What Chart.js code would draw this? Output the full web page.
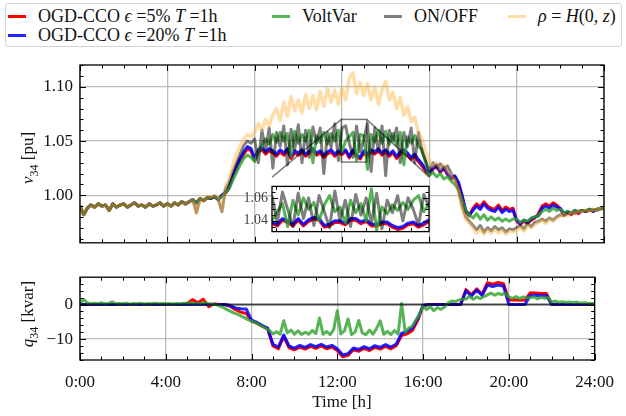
<!DOCTYPE html>
<html>
<head>
<meta charset="utf-8">
<script src="https://cdn.jsdelivr.net/npm/chart.js@4.4.0/dist/chart.umd.min.js"></script>
<style>
  body { margin: 0; background: #fff; width: 626px; height: 416px; overflow: hidden; position: relative;
         font-family: "Liberation Serif", serif; color: #111; }
  canvas { position: absolute; }
  #legend { position: absolute; left: 5px; top: 3px; width: 617px; height: 44px; box-sizing: border-box;
            border: 1px solid #d4d4d4; border-radius: 3px; background: #fff; }
  .item { position: absolute; font-size: 18px; line-height: 19px; white-space: nowrap; }
  .sw { display: inline-block; width: 18px; height: 3px; vertical-align: middle; margin-right: 12px; position: relative; top: -1px; }
  .lab { position: absolute; font-size: 17px; white-space: nowrap; transform: translate(-50%, -50%); }
  .rot { transform: translate(-50%, -50%) rotate(-90deg); }
  sub { font-size: 12px; }
</style>
</head>
<body>
<div id="legend">
  <div class="item" style="left:2px;top:3px"><span class="sw" style="background:#ff0000"></span>OGD-CCO <i>ϵ</i> =5% <i>T</i> =1h</div>
  <div class="item" style="left:2px;top:22px"><span class="sw" style="background:#2626ff"></span>OGD-CCO <i>ϵ</i> =20% <i>T</i> =1h</div>
  <div class="item" style="left:266px;top:3px"><span class="sw" style="background:#56b356"></span>VoltVar</div>
  <div class="item" style="left:378px;top:3px"><span class="sw" style="background:#808080"></span>ON/OFF</div>
  <div class="item" style="left:502px;top:3px"><span class="sw" style="background:#ffdda6"></span><i>ρ</i> = <i>H</i>(0, <i>z</i>)</div>
</div>
<canvas id="topChart" width="626" height="260" style="left:0;top:0"></canvas>
<canvas id="botChart" width="626" height="156" style="left:0;top:260px"></canvas>
<canvas id="insChart" width="10" height="10"></canvas>
<div class="lab rot" style="left:30px;top:158px"><i>v</i><sub>34</sub> [pu]</div>
<div class="lab rot" style="left:30px;top:314px"><i>q</i><sub>34</sub> [kvar]</div>
<div class="lab" style="left:342px;top:402px">Time [h]</div>

<script>
// sampling grids: every 10 minutes and every 15 minutes, 0:00 .. 24:00
const hours10 = Array.from({ length: 145 }, (_, i) => i / 6);
const hours15 = Array.from({ length: 97 }, (_, i) => i / 4);

// voltage at bus 34 [pu], one row per hour (10-min samples)
const vOgd5 = [
  0.990, 0.982, 0.988, 0.991, 0.989, 0.992,
  0.990, 0.991, 0.986, 0.992, 0.989, 0.991,
  0.992, 0.989, 0.991, 0.993, 0.990, 0.991,
  0.989, 0.992, 0.990, 0.991, 0.993, 0.990,
  0.992, 0.990, 0.993, 0.991, 0.994, 0.992,
  0.994, 0.996, 0.993, 0.997, 0.995, 0.998,
  0.997, 0.999, 0.996, 1.000, 1.002, 1.007,
  1.017, 1.025, 1.032, 1.038, 1.043, 1.041,
  1.032, 1.040, 1.042, 1.038, 1.041, 1.039,
  1.036, 1.040, 1.037, 1.041, 1.034, 1.039,
  1.037, 1.040, 1.036, 1.039, 1.041, 1.037,
  1.039, 1.035, 1.038, 1.040, 1.036, 1.039,
  1.0375, 1.0405, 1.0345, 1.0405, 1.0355, 1.0335,
  1.039, 1.036, 1.040, 1.038, 1.041, 1.037,
  1.040, 1.036, 1.039, 1.034, 1.038, 1.040,
  1.037, 1.033, 1.036, 1.031, 1.027, 1.022,
  1.019, 1.024, 1.027, 1.021, 1.025, 1.019,
  1.015, 1.017, 1.011, 0.999, 0.985, 0.981,
  0.988, 0.992, 0.989, 0.994, 0.990, 0.988,
  0.987, 0.991, 0.986, 0.989, 0.987, 0.988,
  0.976, 0.973, 0.976, 0.974, 0.977, 0.979,
  0.983, 0.990, 0.992, 0.990, 0.993, 0.991,
  0.987, 0.982, 0.984, 0.982, 0.985, 0.983,
  0.986, 0.985, 0.987, 0.985, 0.987, 0.988,
  0.988
];
const vOgd20 = [
  0.990, 0.982, 0.988, 0.991, 0.989, 0.992,
  0.990, 0.991, 0.986, 0.992, 0.989, 0.991,
  0.992, 0.989, 0.991, 0.993, 0.990, 0.991,
  0.989, 0.992, 0.990, 0.991, 0.993, 0.990,
  0.992, 0.990, 0.993, 0.991, 0.994, 0.992,
  0.994, 0.996, 0.993, 0.997, 0.995, 0.998,
  0.997, 0.999, 0.996, 1.000, 1.003, 1.008,
  1.018, 1.026, 1.034, 1.040, 1.045, 1.043,
  1.034, 1.042, 1.044, 1.040, 1.043, 1.041,
  1.038, 1.042, 1.039, 1.043, 1.036, 1.041,
  1.039, 1.042, 1.038, 1.041, 1.043, 1.039,
  1.041, 1.037, 1.040, 1.042, 1.038, 1.041,
  1.039, 1.042, 1.036, 1.042, 1.037, 1.035,
  1.041, 1.038, 1.042, 1.040, 1.043, 1.039,
  1.042, 1.038, 1.041, 1.036, 1.040, 1.042,
  1.039, 1.035, 1.038, 1.033, 1.029, 1.024,
  1.020, 1.025, 1.028, 1.022, 1.026, 1.020,
  1.016, 1.018, 1.012, 1.000, 0.986, 0.982,
  0.986, 0.990, 0.987, 0.992, 0.988, 0.986,
  0.985, 0.989, 0.984, 0.987, 0.985, 0.986,
  0.977, 0.974, 0.977, 0.975, 0.978, 0.980,
  0.981, 0.988, 0.990, 0.988, 0.991, 0.989,
  0.988, 0.983, 0.985, 0.983, 0.986, 0.984,
  0.986, 0.985, 0.987, 0.985, 0.987, 0.988,
  0.988
];
const vVoltVar = [
  0.990, 0.982, 0.988, 0.991, 0.989, 0.992,
  0.990, 0.991, 0.986, 0.992, 0.989, 0.991,
  0.992, 0.989, 0.991, 0.993, 0.990, 0.991,
  0.989, 0.992, 0.990, 0.991, 0.993, 0.990,
  0.992, 0.990, 0.993, 0.991, 0.994, 0.992,
  0.994, 0.996, 0.993, 0.997, 0.995, 0.998,
  0.997, 0.999, 0.996, 0.999, 1.002, 1.006,
  1.014, 1.021, 1.028, 1.034, 1.037, 1.035,
  1.031, 1.040, 1.046, 1.052, 1.047, 1.056,
  1.049, 1.058, 1.050, 1.057, 1.036, 1.059,
  1.048, 1.056, 1.050, 1.060, 1.030, 1.055,
  1.049, 1.058, 1.047, 1.057, 1.050, 1.060,
  1.040, 1.050, 1.054, 1.058, 1.032, 1.056,
  1.055, 1.024, 1.056, 1.049, 1.060, 1.048,
  1.059, 1.047, 1.057, 1.046, 1.058, 1.028,
  1.054, 1.048, 1.055, 1.045, 1.042, 1.030,
  1.018, 1.021, 1.017, 1.020, 1.015, 1.017,
  1.013, 1.010, 1.005, 0.995, 0.986, 0.982,
  0.979, 0.983, 0.978, 0.982, 0.977, 0.980,
  0.977, 0.979, 0.976, 0.978, 0.976, 0.978,
  0.978, 0.975, 0.977, 0.976, 0.979, 0.980,
  0.981, 0.985, 0.987, 0.985, 0.988, 0.986,
  0.987, 0.984, 0.985, 0.984, 0.986, 0.985,
  0.986, 0.986, 0.987, 0.986, 0.987, 0.988,
  0.988
];
const vOnOff = [
  0.990, 0.982, 0.988, 0.991, 0.989, 0.992,
  0.990, 0.991, 0.986, 0.992, 0.989, 0.991,
  0.992, 0.989, 0.991, 0.993, 0.990, 0.991,
  0.989, 0.992, 0.990, 0.991, 0.993, 0.990,
  0.992, 0.990, 0.993, 0.991, 0.994, 0.992,
  0.994, 0.996, 0.984, 0.997, 0.995, 0.998,
  0.997, 0.999, 0.996, 0.985, 1.006, 1.012,
  1.022, 1.030, 1.038, 1.046, 1.050, 1.048,
  1.052, 1.030, 1.060, 1.040, 1.062, 1.025,
  1.058, 1.045, 1.064, 1.028, 1.061, 1.042,
  1.065, 1.030, 1.060, 1.035, 1.063, 1.048,
  1.062, 1.020, 1.058, 1.044, 1.066, 1.032,
  1.062, 1.064, 1.048, 1.035, 1.064, 1.040,
  1.052, 1.066, 1.022, 1.062, 1.040, 1.064,
  1.018, 1.060, 1.050, 1.062, 1.030, 1.058,
  1.045, 1.062, 1.030, 1.058, 1.040, 1.032,
  1.022, 1.030, 1.025, 1.029, 1.024, 1.027,
  1.020, 1.015, 1.005, 0.990, 0.980, 0.976,
  0.972, 0.968, 0.972, 0.966, 0.970, 0.967,
  0.971, 0.968, 0.970, 0.966, 0.969, 0.968,
  0.970, 0.972, 0.969, 0.974, 0.971, 0.975,
  0.976, 0.978, 0.976, 0.979, 0.977, 0.980,
  0.982, 0.981, 0.983, 0.984, 0.983, 0.985,
  0.986, 0.985, 0.986, 0.987, 0.986, 0.987,
  0.988
];
const vRho = [
  0.990, 0.982, 0.988, 0.991, 0.989, 0.992,
  0.990, 0.991, 0.986, 0.992, 0.989, 0.991,
  0.992, 0.989, 0.991, 0.993, 0.990, 0.991,
  0.989, 0.992, 0.990, 0.991, 0.993, 0.990,
  0.992, 0.990, 0.993, 0.991, 0.994, 0.992,
  0.994, 0.996, 0.983, 0.997, 0.995, 0.999,
  0.998, 1.000, 0.997, 0.986, 1.008, 1.016,
  1.028, 1.038, 1.046, 1.052, 1.056, 1.054,
  1.058, 1.066, 1.060, 1.070, 1.064, 1.074,
  1.080, 1.069, 1.086, 1.073, 1.091, 1.078,
  1.088, 1.076, 1.093, 1.080, 1.092, 1.079,
  1.096, 1.082, 1.099, 1.086, 1.097, 1.084,
  1.099, 1.088, 1.108, 1.113, 1.094, 1.104,
  1.092, 1.103, 1.088, 1.100, 1.084, 1.097,
  1.105, 1.088, 1.095, 1.080, 1.090, 1.074,
  1.082, 1.068, 1.072, 1.058, 1.052, 1.040,
  1.032, 1.027, 1.030, 1.024, 1.028, 1.022,
  1.018, 1.014, 1.004, 0.988, 0.978, 0.975,
  0.970, 0.965, 0.969, 0.964, 0.968, 0.965,
  0.969, 0.965, 0.968, 0.964, 0.967, 0.966,
  0.968, 0.970, 0.967, 0.972, 0.970, 0.973,
  0.975, 0.977, 0.974, 0.978, 0.976, 0.979,
  0.981, 0.982, 0.981, 0.984, 0.983, 0.985,
  0.985, 0.986, 0.985, 0.987, 0.986, 0.988,
  0.988
];

// reactive power at bus 34 [kvar]; the OGD-CCO ones are on the 15-min grid
const qOgd5 = [
  0, 0, 0, 0, 0, 0, 0, 0,
  0, 0, 0, 0, 0, 0, 0, 0,
  0, 0, 0, 0, 0.3, 1.4, 0.5, 1.5,
  -0.6, 0.2, 0, 0, -0.5, -1.5, -2.2, -2.6,
  -4.8, -5.4, -6.3, -7.0, -12.0, -12.8, -9.3, -12.5,
  -13.1, -12.3, -12.9, -12.1, -12.7, -12.0, -12.8, -12.3,
  -13.3, -15.1, -14.7, -13.1, -13.5, -12.7, -13.3, -12.4,
  -12.9, -12.1, -12.8, -11.9, -9.0, -8.5, -7.5, -4.6,
  -0.4, 0, 0, 0, 0, 0, 0, 0,
  4.3, 2.8, 4.5, 3.0, 6.3, 5.9, 6.4, 6.0,
  1.3, 1.4, 1.2, 1.3, 3.4, 3.3, 3.2, 3.2,
  0, 0, 0, 0, 0, 0, 0, 0,
  0
];
const qOgd20 = [
  0, 0, 0, 0, 0, 0, 0, 0,
  0, 0, 0, 0, 0, 0, 0, 0,
  0, 0, 0, 0, 0, 0, 0, 0,
  0, 0, 0, 0, -0.3, -1.0, -1.2, -1.3,
  -4.5, -5.2, -6.0, -6.8, -11.5, -12.3, -8.8, -12.0,
  -12.6, -11.8, -12.4, -11.6, -12.2, -11.5, -12.3, -11.8,
  -12.8, -14.6, -14.2, -12.6, -13.0, -12.2, -12.8, -11.9,
  -12.4, -11.6, -12.3, -11.4, -8.3, -7.8, -6.8, -4.0,
  -0.2, 0, 0, 0, 0, 0, 0, 0,
  4.0, 2.4, 4.2, 2.6, 5.6, 5.2, 5.6, 5.3,
  0, 0, 0, 0, 2.6, 2.7, 2.5, 2.6,
  0, 0, 0, 0, 0, 0, 0, 0,
  0
];
// VoltVar on the 10-min grid, one row per hour
const qVoltVar = [
  0.3, 1.5, 0.5, 0.2, 0.4, 0.2,
  0.5, 0.2, 0.3, 0.8, 0.2, 0.3,
  0.2, 0.4, 0.1, 0.3, 0.2, 0.4,
  0.1, 0.3, 0.2, 0.4, 0.2, 0.3,
  0.2, 0.3, 0.1, 0.3, 0.2, 0.4,
  0.3, 0.5, 0.2, 0.4, 0.3, 0.5,
  0.2, 0.1, 0.0, -0.4, -0.8, -1.4,
  -1.9, -2.4, -2.8, -3.3, -3.8, -4.4,
  -4.8, -5.2, -5.8, -6.2, -6.9, -7.5,
  -8.5, -7.9, -8.6, -4.7, -8.2, -7.4,
  -8.6, -7.6, -8.7, -8.0, -8.6, -7.5,
  -8.4, -3.9, -8.6, -7.8, -8.7, -7.2,
  -1.8, -8.5, -7.6, -4.2, -8.7, -7.9,
  -4.6, -8.3, -8.7, -7.4, -8.6, -6.9,
  -4.7, -8.6, -7.8, -8.7, -7.5, -8.6,
  0.3, -8.0, -6.8, -6.2, -4.5, -2.8,
  -0.5, -1.5, -0.6, -1.8, -0.9, -1.4,
  -0.7, 0.4, 1.0, 0.8, 1.3, 1.5,
  1.6, 2.4, 1.5, 2.2, 1.7, 2.3,
  2.8, 3.3, 2.7, 3.2, 2.9, 3.3,
  2.2, 1.8, 2.3, 1.7, 2.2, 1.9,
  2.0, 2.2, 1.6, 2.1, 1.8, 2.0,
  0.7, 1.0, 0.6, 0.8, 0.6, 0.7,
  0.5, 0.7, 0.4, 0.5, 0.4, 0.3,
  0.3
];
// ON/OFF never absorbs reactive power: flat at zero all day
const qOnOffHours = [0, 24];
const qOnOff = [0, 0];

// zoomed window (inset), 31 samples across it
const insetT0 = 11.97, insetT1 = 13.13, insetVmin = 1.0306, insetVmax = 1.07;
const insetHours = Array.from({ length: 31 }, (_, k) => insetT0 + k * (insetT1 - insetT0) / 30);
const insOgd5 = [
  1.0375, 1.0355, 1.0405, 1.0385, 1.0355, 1.0405, 1.0355, 1.0395, 1.0415, 1.0405, 1.0345,
  1.0355, 1.0385, 1.0385, 1.0365, 1.0405, 1.0405, 1.0375, 1.0395, 1.0355, 1.0355,
  1.0375, 1.0375, 1.0345, 1.0325, 1.0335, 1.0365, 1.0375, 1.0345, 1.0365, 1.0395
];
const insOgd20 = [
  1.039, 1.037, 1.042, 1.040, 1.037, 1.042, 1.037, 1.041, 1.043, 1.042, 1.036,
  1.037, 1.040, 1.040, 1.038, 1.042, 1.042, 1.039, 1.041, 1.037, 1.037,
  1.039, 1.039, 1.036, 1.034, 1.035, 1.038, 1.039, 1.036, 1.038, 1.041
];
const insVoltVar = [
  1.040, 1.048, 1.055, 1.035, 1.058, 1.045, 1.060, 1.050, 1.056, 1.040, 1.054,
  1.062, 1.048, 1.052, 1.038, 1.058, 1.047, 1.055, 1.040, 1.068, 1.032,
  1.052, 1.046, 1.054, 1.049, 1.056, 1.050, 1.058, 1.062, 1.048, 1.055
];
const insOnOff = [
  1.062, 1.038, 1.065, 1.050, 1.035, 1.064, 1.042, 1.060, 1.036, 1.062, 1.048,
  1.034, 1.066, 1.040, 1.058, 1.035, 1.063, 1.045, 1.060, 1.038, 1.064,
  1.033, 1.058, 1.047, 1.062, 1.040, 1.060, 1.050, 1.036, 1.063, 1.052
];

const hourTicks = [0, 4, 8, 12, 16, 20, 24];
const vTicks = [1.00, 1.05, 1.10];
const qTicks = [-10, 0];
const insetVTicks = [1.04, 1.06];

// where the inset sits, in top-panel data coordinates
const insetPlace = { x0: 8.8, x1: 16.0, y0: 0.958, y1: 1.0167 };

const COLORS = {
  ogd5: 'rgba(255,0,0,1)',
  ogd20: 'rgba(0,0,255,0.85)',
  voltvar: 'rgba(44,160,44,0.8)',
  onoff: 'rgba(0,0,0,0.5)',
  onoffQ: 'rgba(0,0,0,0.65)',
  rho: 'rgba(255,180,60,0.45)'
};
const FONT = { family: '"Liberation Serif", serif', size: 17 };

Chart.defaults.animation = false;
Chart.defaults.devicePixelRatio = 1;

function pts(xs, ys) { return xs.map((x, i) => ({ x: x, y: ys[i] })); }

function line(label, xs, ys, color, order, width) {
  return {
    label: label, data: pts(xs, ys), borderColor: color, backgroundColor: color,
    borderWidth: width || 3, pointRadius: 0, tension: 0, fill: false, order: order,
    borderJoinStyle: 'round'
  };
}

function range(a, b, step) {
  const out = [];
  for (let v = a; v <= b + 1e-9; v += step) out.push(+v.toFixed(6));
  return out;
}

// matplotlib-like frame with inward ticks on all four sides
function frame(cfg) {
  return {
    id: 'frame',
    afterDatasetsDraw(chart) {
      const { ctx, chartArea: a, scales } = chart;
      const x = scales.x, y = scales.y;
      ctx.save();
      ctx.strokeStyle = '#000';
      ctx.lineWidth = 1;
      const xt = (vals, len) => vals.forEach(v => {
        const p = Math.round(x.getPixelForValue(v)) + 0.5;
        ctx.beginPath();
        ctx.moveTo(p, a.bottom); ctx.lineTo(p, a.bottom - len);
        ctx.moveTo(p, a.top); ctx.lineTo(p, a.top + len);
        ctx.stroke();
      });
      const yt = (vals, len) => vals.forEach(v => {
        const p = Math.round(y.getPixelForValue(v)) + 0.5;
        ctx.beginPath();
        ctx.moveTo(a.left, p); ctx.lineTo(a.left + len, p);
        ctx.moveTo(a.right, p); ctx.lineTo(a.right - len, p);
        ctx.stroke();
      });
      xt(cfg.xMinor, 3.5); xt(cfg.xMajor, 6);
      yt(cfg.yMinor, 3.5); yt(cfg.yMajor, 6);
      ctx.lineWidth = 1.3;
      ctx.strokeRect(a.left, a.top, a.right - a.left, a.bottom - a.top);
      ctx.restore();
    }
  };
}

const insetMarker = {
  id: 'insetMarker',
  afterDatasetsDraw(chart) {
    const { ctx, scales: { x, y } } = chart;
    const bx0 = x.getPixelForValue(insetT0), bx1 = x.getPixelForValue(insetT1);
    const byTop = y.getPixelForValue(insetVmax), byBot = y.getPixelForValue(insetVmin);
    const ix0 = x.getPixelForValue(insetPlace.x0), ix1 = x.getPixelForValue(insetPlace.x1);
    const iyTop = y.getPixelForValue(insetPlace.y1);
    ctx.save();
    ctx.strokeStyle = 'rgba(0,0,0,0.5)';
    ctx.lineWidth = 1.5;
    ctx.strokeRect(bx0, byTop, bx1 - bx0, byBot - byTop);
    ctx.beginPath();
    ctx.moveTo(bx0, byTop); ctx.lineTo(ix0, iyTop);
    ctx.moveTo(bx1, byTop); ctx.lineTo(ix1, iyTop);
    ctx.stroke();
    ctx.restore();
  }
};

const gridCfg = { color: 'rgba(176,176,176,0.85)', lineWidth: 1.3, drawTicks: false };

// top panel: voltage
const topChart = new Chart(document.getElementById('topChart'), {
  type: 'line',
  data: {
    datasets: [
      line('OGD-CCO 5%', hours10, vOgd5, COLORS.ogd5, 5),
      line('OGD-CCO 20%', hours10, vOgd20, COLORS.ogd20, 4),
      line('VoltVar', hours10, vVoltVar, COLORS.voltvar, 3),
      line('ON/OFF', hours10, vOnOff, COLORS.onoff, 2),
      line('rho', hours10, vRho, COLORS.rho, 1, 3.5)
    ]
  },
  options: {
    responsive: false, parsing: false,
    layout: { padding: { top: 65, right: 22, bottom: 8, left: 0 } },
    plugins: { legend: { display: false }, tooltip: { enabled: false } },
    scales: {
      x: {
        type: 'linear', min: 0, max: 24,
        afterBuildTicks: s => { s.ticks = hourTicks.map(v => ({ value: v })); },
        afterFit: s => { s.height = 0; },
        ticks: { display: false },
        grid: gridCfg, border: { display: false }
      },
      y: {
        type: 'linear', min: 0.9561, max: 1.1202,
        afterBuildTicks: s => { s.ticks = vTicks.map(v => ({ value: v })); },
        afterFit: s => { s.width = 80; },
        ticks: { font: FONT, color: '#111', padding: 7, callback: v => v.toFixed(2) },
        grid: gridCfg, border: { display: false }
      }
    }
  },
  plugins: [insetMarker, frame({
    xMajor: hourTicks, xMinor: range(0, 24, 1),
    yMajor: vTicks, yMinor: range(0.96, 1.12, 0.01)
  })]
});

// bottom panel: reactive power
new Chart(document.getElementById('botChart'), {
  type: 'line',
  data: {
    datasets: [
      line('OGD-CCO 5%', hours15, qOgd5, COLORS.ogd5, 5),
      line('OGD-CCO 20%', hours15, qOgd20, COLORS.ogd20, 4),
      line('VoltVar', hours10, qVoltVar, COLORS.voltvar, 3),
      line('ON/OFF', qOnOffHours, qOnOff, COLORS.onoffQ, 2, 2)
    ]
  },
  options: {
    responsive: false, parsing: false,
    layout: { padding: { top: 9, right: 22, bottom: 0, left: 0 } },
    plugins: { legend: { display: false }, tooltip: { enabled: false } },
    scales: {
      x: {
        type: 'linear', min: 0, max: 24,
        afterBuildTicks: s => { s.ticks = hourTicks.map(v => ({ value: v })); },
        afterFit: s => { s.height = 56; },
        ticks: { font: FONT, color: '#111', padding: 12, autoSkip: false, maxRotation: 0,
                 callback: v => v + ':00' },
        grid: gridCfg, border: { display: false }
      },
      y: {
        type: 'linear', min: -16.05, max: 7.9,
        afterBuildTicks: s => { s.ticks = qTicks.map(v => ({ value: v })); },
        afterFit: s => { s.width = 80; },
        ticks: { font: FONT, color: '#111', padding: 7,
                 callback: v => (v < 0 ? '\u2212' + Math.abs(v) : String(v)) },
        grid: gridCfg, border: { display: false }
      }
    }
  },
  plugins: [frame({
    xMajor: hourTicks, xMinor: range(0, 24, 1),
    yMajor: qTicks, yMinor: range(-16, 6, 2)
  })]
});

// inset: zoom on the midday voltages
const sx = topChart.scales.x, sy = topChart.scales.y;
const iL = sx.getPixelForValue(insetPlace.x0), iR = sx.getPixelForValue(insetPlace.x1);
const iT = sy.getPixelForValue(insetPlace.y1), iB = sy.getPixelForValue(insetPlace.y0);
const yAxisW = 36, pad = 3;
const insCanvas = document.getElementById('insChart');
insCanvas.width = Math.round(iR - iL) + yAxisW + pad;
insCanvas.height = Math.round(iB - iT) + 2 * pad;
insCanvas.style.left = Math.round(iL - yAxisW) + 'px';
insCanvas.style.top = Math.round(iT - pad) + 'px';

const whiteBg = {
  id: 'whiteBg',
  beforeDatasetsDraw(chart) {
    const { ctx, chartArea: a } = chart;
    ctx.save();
    ctx.fillStyle = '#fff';
    ctx.fillRect(a.left, a.top, a.right - a.left, a.bottom - a.top);
    ctx.restore();
  }
};

new Chart(insCanvas, {
  type: 'line',
  data: {
    datasets: [
      line('OGD-CCO 5%', insetHours, insOgd5, COLORS.ogd5, 5, 3),
      line('OGD-CCO 20%', insetHours, insOgd20, COLORS.ogd20, 4, 3),
      line('VoltVar', insetHours, insVoltVar, COLORS.voltvar, 3, 3),
      line('ON/OFF', insetHours, insOnOff, COLORS.onoff, 2, 3)
    ]
  },
  options: {
    responsive: false, parsing: false,
    layout: { padding: { top: pad, right: pad, bottom: pad, left: 0 } },
    plugins: { legend: { display: false }, tooltip: { enabled: false } },
    scales: {
      x: { type: 'linear', min: insetT0, max: insetT1, display: false },
      y: {
        type: 'linear', min: insetVmin, max: insetVmax,
        afterBuildTicks: s => { s.ticks = insetVTicks.map(v => ({ value: v })); },
        afterFit: s => { s.width = yAxisW; },
        ticks: { font: { family: FONT.family, size: 14 }, color: '#444', padding: 4,
                 callback: v => v.toFixed(2) },
        grid: { display: false, drawTicks: false }, border: { display: false }
      }
    }
  },
  plugins: [whiteBg, frame({
    xMajor: [], xMinor: range(12, 13.01, 1 / 6),
    yMajor: insetVTicks, yMinor: range(1.035, 1.065, 0.005)
  })]
});
</script>
</body>
</html>
